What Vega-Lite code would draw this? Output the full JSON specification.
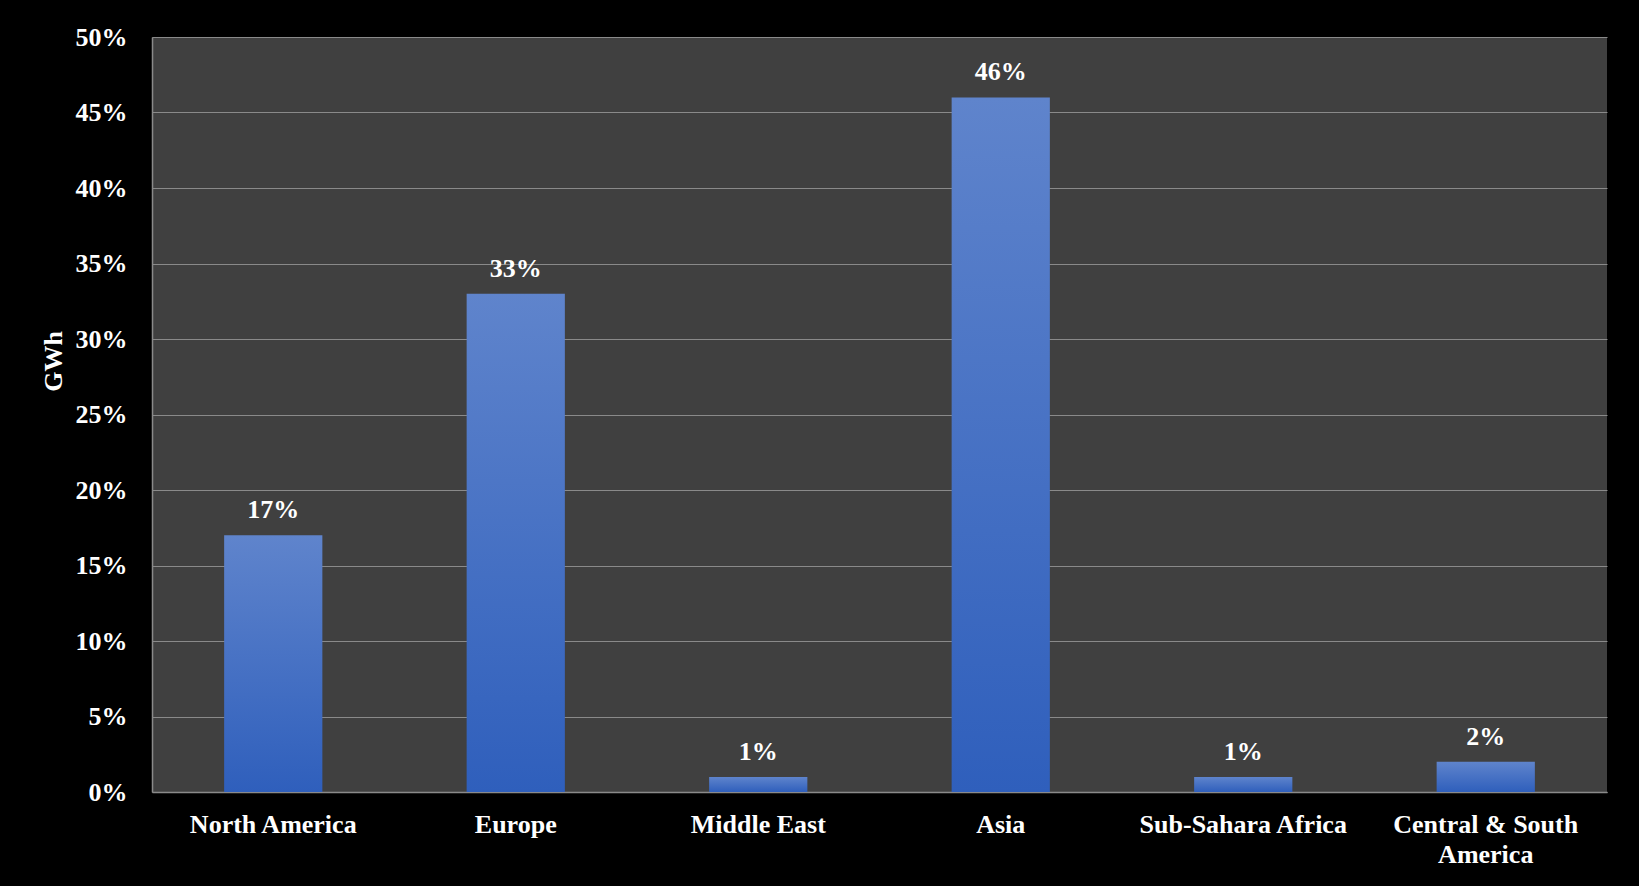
{
  "$schema": "https://vega.github.io/schema/vega-lite/v6.json",
  "autosize": {"type": "none"},
  "width": 1455,
  "height": 755,
  "padding": {"left": 152, "top": 37, "right": 32, "bottom": 94},
  "background": "#000000",
  "config": {
    "view": {"fill": "#404040", "stroke": null},
    "font": "Liberation Serif",
    "axis": {
      "labelFont": "Liberation Serif",
      "labelFontWeight": "bold",
      "labelFontSize": 26,
      "labelColor": "#ffffff",
      "labelLimit": 0,
      "titleFont": "Liberation Serif",
      "titleFontWeight": "bold",
      "titleFontSize": 26,
      "titleColor": "#ffffff",
      "domainColor": "#8a8a8a",
      "domainWidth": 1.5,
      "gridColor": "#8a8a8a",
      "gridWidth": 1.2,
      "ticks": false
    }
  },
  "data": {
    "values": [
      {"region": "North America", "share": 0.17},
      {"region": "Europe", "share": 0.33},
      {"region": "Middle East", "share": 0.01},
      {"region": "Asia", "share": 0.46},
      {"region": "Sub-Sahara Africa", "share": 0.01},
      {"region": "Central & South America", "share": 0.02}
    ]
  },
  "encoding": {
    "x": {
      "field": "region",
      "type": "nominal",
      "sort": null,
      "scale": {"paddingInner": 0.595, "paddingOuter": 0.2975},
      "axis": {
        "title": null,
        "labelAngle": 0,
        "labelPadding": 19,
        "labelLineHeight": 30,
        "labelLimit": 0,
        "labelExpr": "datum.label == 'Central & South America' ? ['Central & South', 'America'] : datum.label",
        "grid": false
      }
    },
    "y": {
      "field": "share",
      "type": "quantitative",
      "scale": {"domain": [0, 0.5], "nice": false},
      "axis": {
        "title": "GWh",
        "format": ".0%",
        "values": [0, 0.05, 0.1, 0.15, 0.2, 0.25, 0.3, 0.35, 0.4, 0.45, 0.5],
        "labelPadding": 25,
        "grid": true,
        "titleAngle": -90,
        "titleX": -91,
        "titleY": 324,
        "titleAlign": "center",
        "titleBaseline": "alphabetic"
      }
    }
  },
  "layer": [
    {
      "mark": {
        "type": "bar",
        "color": {
          "gradient": "linear",
          "x1": 0, "y1": 0, "x2": 0, "y2": 1,
          "stops": [
            {"offset": 0, "color": "#5f84cc"},
            {"offset": 1, "color": "#2f5fbc"}
          ]
        }
      }
    },
    {
      "mark": {
        "type": "text",
        "font": "Liberation Serif",
        "fontWeight": "bold",
        "fontSize": 26,
        "color": "#ffffff",
        "baseline": "alphabetic",
        "dy": -17
      },
      "encoding": {
        "text": {"field": "share", "type": "quantitative", "format": ".0%"}
      }
    }
  ]
}
